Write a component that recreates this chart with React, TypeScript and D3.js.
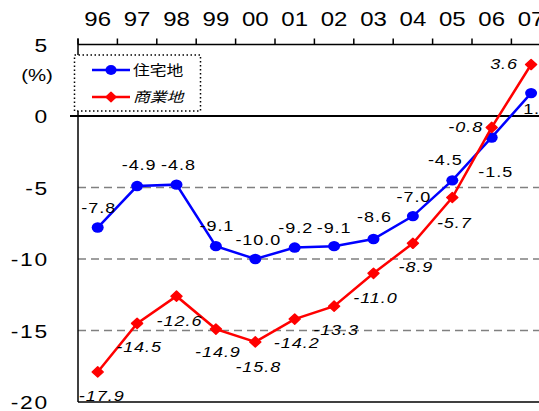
import React from "react";
import * as d3 from "d3";

// Land price change rate (%), by year
const years = ["96", "97", "98", "99", "00", "01", "02", "03", "04", "05", "06", "07"];
const residential = [-7.8, -4.9, -4.8, -9.1, -10.0, -9.2, -9.1, -8.6, -7.0, -4.5, -1.5, 1.6];
const commercial = [-17.9, -14.5, -12.6, -14.9, -15.8, -14.2, -13.3, -11.0, -8.9, -5.7, -0.8, 3.6];
const yTicks = [5, 0, -5, -10, -15, -20];
const gridValues = [-5, -10, -15];
const seriesNames = ["住宅地", "商業地"];

// label placement relative to each point [dx, dy]
const residentialLabelOffset: [number, number][] = [
  [1, -15], [2, -16], [2, -15], [1, -15], [3, -14], [1, -15],
  [0, -13], [1, -17], [1, -14], [-7, -15], [4, 40], [6, 21],
];
const commercialLabelOffset: [number, number][] = [
  [4, 29], [2, 29], [3, 30], [2, 28], [3, 30], [2, 29],
  [2, 29], [2, 30], [3, 29], [2, 30], [-26, 5], [-27, 4],
];

const W = 539;
const H = 411;
const SX = 1.2; // horizontal glyph stretch

const x = d3.scaleBand<string>().domain(years).range([78, 78 + 12 * 39.4]).padding(0);
const y = d3.scaleLinear().domain([-20, 5]).range([402, 44.5]);
const cx = (d: string) => (x(d) as number) + x.bandwidth() / 2;

const FONT = "'Liberation Sans', Arial, sans-serif";
const CJK = "'Noto Sans CJK JP', 'Noto Sans', sans-serif";

function SText(props: {
  x: number; y: number; size: number; anchor?: string; italic?: boolean;
  family?: string; children: React.ReactNode; spacing?: number;
}) {
  const { x: tx, y: ty, size, anchor = "middle", italic, family = FONT, children, spacing = 0 } = props;
  return (
    <text
      transform={`translate(${tx},${ty}) scale(${SX},1)`}
      fontSize={size}
      fontFamily={family}
      fontStyle={italic ? "italic" : "normal"}
      textAnchor={anchor}
      letterSpacing={spacing}
      fill="#000"
    >
      {children}
    </text>
  );
}

function Diamond({ px, py, r, color }: { px: number; py: number; r: number; color: string }) {
  const rx = r;
  const ry = r * 0.92;
  return (
    <path
      d={`M${px},${py - ry}L${px + rx},${py}L${px},${py + ry}L${px - rx},${py}Z`}
      fill={color}
      stroke={color}
      strokeWidth={1.5}
      strokeLinejoin="round"
    />
  );
}

export default function App() {
  const line = d3
    .line<number>()
    .x((_, i) => cx(years[i]))
    .y((v) => y(v));

  const left = 78;
  const right = W + 20;
  const ticksTop = d3.range(years.length + 1).map((i) => left + i * x.bandwidth());

  return (
    <svg
      width={W}
      height={H}
      style={{ position: "fixed", left: 0, top: 0, background: "#fff", display: "block" }}
    >
      <rect x={0} y={0} width={W} height={H} fill="#fff" />

      {/* dashed grid */}
      {gridValues.map((v) => (
        <line
          key={v}
          x1={left}
          x2={right}
          y1={y(v)}
          y2={y(v)}
          stroke="#808080"
          strokeWidth={1.5}
          strokeDasharray="8,5"
        />
      ))}

      {/* frame: top, left, bottom, zero line */}
      <line x1={left} x2={right} y1={y(5)} y2={y(5)} stroke="#000" strokeWidth={1.5} />
      <line x1={left} x2={left} y1={y(5) - 6} y2={y(-20)} stroke="#000" strokeWidth={1.5} />
      <line x1={left} x2={right} y1={y(-20)} y2={y(-20)} stroke="#000" strokeWidth={1.5} />
      <line x1={70} x2={right} y1={y(0)} y2={y(0)} stroke="#000" strokeWidth={2} />

      {/* top ticks and year labels */}
      {ticksTop.map((t, i) => (
        <line key={i} x1={t} x2={t} y1={y(5)} y2={y(5) - 6} stroke="#000" strokeWidth={1.5} />
      ))}
      {years.map((yr) => (
        <SText key={yr} x={cx(yr)} y={26} size={20}>
          {yr}
        </SText>
      ))}

      {/* left axis labels */}
      {yTicks.map((v) => (
        <SText key={v} x={49} y={y(v) + 7} size={19} anchor="end" spacing={1.5}>
          {v}
        </SText>
      ))}
      <SText x={37} y={81} size={17}>
        (%)
      </SText>

      {/* residential series */}
      <path d={line(residential) || ""} fill="none" stroke="#0000FF" strokeWidth={2.5} />
      {residential.map((v, i) => (
        <ellipse key={i} cx={cx(years[i])} cy={y(v)} rx={6} ry={5.2} fill="#0000FF" />
      ))}

      {/* commercial series */}
      <path d={line(commercial) || ""} fill="none" stroke="#FF0000" strokeWidth={2.5} />
      {commercial.map((v, i) => (
        <Diamond key={i} px={cx(years[i])} py={y(v)} r={5.5} color="#FF0000" />
      ))}

      {/* value labels */}
      {residential.map((v, i) => (
        <SText
          key={"r" + i}
          x={cx(years[i]) + residentialLabelOffset[i][0]}
          y={y(v) + residentialLabelOffset[i][1]}
          size={15}
          spacing={0.8}
        >
          {v.toFixed(1)}
        </SText>
      ))}
      {commercial.map((v, i) => (
        <SText
          key={"c" + i}
          x={cx(years[i]) + commercialLabelOffset[i][0]}
          y={y(v) + commercialLabelOffset[i][1]}
          size={15}
          italic
          spacing={0.8}
        >
          {v.toFixed(1)}
        </SText>
      ))}

      {/* legend */}
      <rect
        x={74.5}
        y={55}
        width={126}
        height={56}
        fill="#fff"
        stroke="#000"
        strokeWidth={1.5}
        strokeDasharray="1.5,2.5"
      />
      <line x1={92} x2={130} y1={70} y2={70} stroke="#0000FF" strokeWidth={2.5} />
      <ellipse cx={111} cy={70} rx={5.5} ry={5} fill="#0000FF" />
      <SText x={133} y={75} size={14} anchor="start" family={CJK}>
        {seriesNames[0]}
      </SText>
      <line x1={92} x2={130} y1={97} y2={97} stroke="#FF0000" strokeWidth={2.5} />
      <Diamond px={111} py={97} r={5} color="#FF0000" />
      <SText x={133} y={102} size={14} anchor="start" family={CJK} italic>
        {seriesNames[1]}
      </SText>
    </svg>
  );
}
